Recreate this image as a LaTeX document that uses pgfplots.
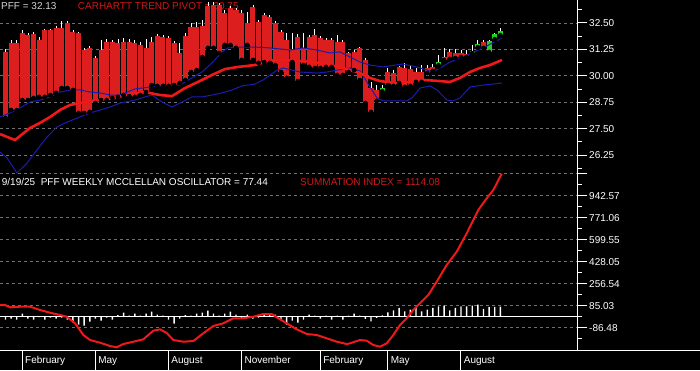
\documentclass[border=0pt]{standalone}
\usepackage{pgfplots}
\pgfplotsset{compat=1.18}
\usepackage{pgfplotstable}
\usepackage{fontspec}
\setmainfont{Liberation Sans}
\definecolor{barred}{HTML}{DC1E1E}
\definecolor{linered}{HTML}{F01818}
\definecolor{txtred}{HTML}{D01818}
\definecolor{navy}{HTML}{1C1CB0}
\definecolor{cgreen}{HTML}{22D022}
\definecolor{txtgray}{HTML}{D4D4D4}
\definecolor{gridgray}{HTML}{707070}
\newcommand{\tf}{\fontsize{10}{12}\selectfont}

\pgfplotstableread{
i lo hi wk
0 28.00 31.13 31.27
1 28.38 31.55 31.69
2 28.38 31.55 31.69
3 28.85 32.03 32.17
4 28.85 31.93 32.03
5 28.95 31.98 32.07
6 29.00 31.69 31.84
7 29.00 32.17 32.22
8 29.09 32.17 32.22
9 29.19 32.26 32.36
10 29.42 32.26 32.59
11 29.42 32.50 32.59
12 29.33 32.07 32.17
13 28.24 32.03 32.07
14 28.24 31.22 31.32
15 28.29 31.32 31.41
16 28.71 30.84 30.94
17 28.85 31.22 31.69
18 28.85 31.60 31.74
19 28.95 31.60 31.69
20 29.00 31.55 31.74
21 29.09 31.60 31.79
22 29.04 31.60 31.74
23 29.00 31.55 31.69
24 29.09 31.46 31.60
25 29.23 31.32 31.74
26 29.56 31.60 31.84
27 29.52 31.88 31.98
28 29.52 31.84 31.93
29 29.52 31.79 31.88
30 29.56 31.55 31.65
31 29.66 31.08 31.55
32 29.80 31.88 32.03
33 30.18 32.31 32.50
34 30.27 32.31 32.55
35 30.89 32.36 32.64
36 31.32 33.30 33.49
37 31.32 33.35 33.49
38 31.08 33.35 33.45
39 31.46 32.97 33.12
40 31.46 33.21 33.30
41 31.32 33.12 33.21
42 30.75 32.97 33.12
43 31.46 32.50 33.02
44 30.75 33.26 33.35
45 30.61 32.55 32.64
46 30.65 32.88 32.97
47 30.61 32.78 32.88
48 30.51 32.50 32.59
49 30.18 32.07 32.17
50 29.90 31.69 32.03
51 30.65 31.22 32.03
52 29.75 31.84 31.98
53 30.51 31.32 32.03
54 30.42 31.84 31.93
55 30.37 31.93 32.22
56 30.37 31.79 31.88
57 30.42 31.69 31.79
58 30.42 31.69 31.79
59 30.04 31.60 31.93
60 30.04 31.60 31.69
61 30.18 31.08 31.13
62 30.27 31.13 31.22
63 29.80 31.32 31.36
64 28.71 30.75 30.84
65 28.29 29.42 29.71
66 28.81 29.33 29.56
68 29.56 30.18 30.37
69 29.52 30.13 30.27
70 29.66 30.42 30.46
71 29.47 30.37 30.61
72 29.52 30.32 30.46
73 29.71 30.18 30.37
74 29.71 30.18 30.51
75 30.13 30.37 30.51
76 30.23 30.42 30.56
78 30.75 30.89 31.32
79 30.80 31.13 31.27
80 30.84 31.08 31.27
81 30.89 31.08 31.22
82 30.89 31.03 31.22
85 31.32 31.60 31.69
}\redbars

\pgfplotstableread{
i lo hi wl wh
67 29.28 29.42 29.19 29.56
77 30.51 30.65 30.42 30.98
83 31.08 31.17 31.03 31.46
84 31.36 31.51 31.32 31.69
86 31.13 31.65 31.08 31.69
87 31.74 31.98 31.69 32.03
88 31.93 32.13 31.88 32.26
}\greenbars

\pgfplotstableread{
x y
-0.97 27.24
1.70 26.96
4.37 27.53
6.15 27.77
7.93 28.05
9.70 28.38
11.48 28.62
13.26 28.71
15.04 28.81
16.82 28.85
19.48 28.95
21.26 29.09
24.82 29.23
27.48 29.09
29.62 29.04
31.93 29.42
34.24 29.71
36.73 30.04
39.04 30.32
41.35 30.42
44.37 30.51
46.15 30.65
47.93 30.75
49.71 30.75
51.49 30.70
53.27 30.70
55.93 30.61
58.60 30.46
61.27 30.27
63.05 30.13
64.82 29.90
66.60 29.75
69.27 29.66
71.94 29.71
74.60 29.80
77.27 29.75
79.05 29.71
80.83 29.90
82.61 30.18
84.38 30.37
86.16 30.51
88.30 30.75
}\trend

\pgfplotstableread{
x y
-0.97 28.05
0.81 28.24
2.59 28.48
4.37 28.76
6.15 28.85
7.93 29.00
9.70 29.23
11.48 29.33
13.26 29.33
15.04 29.23
16.82 29.19
18.59 29.09
20.37 29.09
23.04 29.38
25.71 29.47
28.37 29.52
31.04 29.56
33.17 29.90
34.95 30.18
36.73 30.61
38.51 31.13
39.58 31.32
42.06 31.36
44.37 31.36
47.04 31.32
50.60 31.22
52.91 31.32
55.40 31.22
57.71 31.08
59.49 31.13
61.27 30.89
63.05 30.65
64.82 30.51
67.14 30.42
70.69 30.56
73.18 30.42
76.02 30.18
77.27 30.37
79.05 30.65
82.07 30.98
84.92 31.32
88.30 31.79
}\bluehi

\pgfplotstableread{
x y
-0.97 26.39
0.28 26.11
2.06 25.40
3.84 25.87
5.61 26.49
7.39 27.10
9.17 27.58
10.95 27.81
13.26 28.05
15.04 28.24
16.82 28.38
18.59 28.52
20.37 28.71
23.04 28.85
24.82 29.00
26.06 29.09
27.84 28.76
29.62 28.52
31.40 28.76
33.17 29.00
34.95 29.00
36.73 29.09
38.51 29.19
40.29 29.33
42.06 29.52
44.37 29.61
45.80 29.80
48.29 30.27
49.36 30.37
52.38 30.18
55.40 30.13
57.18 30.18
58.96 30.27
61.27 30.37
63.05 30.23
64.82 29.47
66.07 28.95
67.14 28.81
71.40 28.81
72.47 29.00
73.71 29.42
75.49 29.52
76.74 29.33
78.51 28.85
79.58 28.81
80.83 28.95
82.61 29.47
84.92 29.56
86.69 29.61
88.30 29.66
}\bluelo

\pgfplotstableread{
x y
0 -23
1 -16
2 -23
3 23
4 -16
5 -23
6 -4
7 -23
8 -8
9 -16
10 -8
11 -23
12 -44
13 -62
14 -70
15 -39
16 -16
17 -31
18 -8
19 -23
20 12
21 31
22 8
23 23
24 8
25 23
26 39
27 16
28 8
29 -23
30 -55
31 -16
32 12
33 8
34 23
35 31
36 47
37 23
38 8
39 23
40 39
41 16
42 -16
43 16
44 -16
45 -8
46 27
47 16
48 16
49 -23
50 -62
51 -31
52 -47
53 -23
54 16
55 8
56 -16
57 8
58 -23
59 8
60 -23
61 8
62 23
63 8
64 -18
65 -37
66 -10
67 10
68 34
69 49
70 68
71 41
72 55
73 68
74 41
75 55
76 68
77 80
78 86
79 49
80 68
81 80
82 80
83 86
84 94
85 60
86 76
87 76
88 77.44
}\osc

\pgfplotstableread{
x y
-0.97 90.5
-0.08 90.5
0.81 72.6
2.59 77.2
4.37 77.2
6.15 51.5
7.93 30.5
9.70 12.5
10.89 -0.7
12.37 -52.2
13.85 -143.4
15.04 -182.4
16.82 -203.4
18.59 -229.1
19.79 -239.3
20.96 -213.6
22.74 -195.6
24.51 -176.9
26.29 -109.9
27.48 -99.0
28.68 -127.8
29.85 -182.4
31.63 -195.6
33.41 -190.2
35.18 -130.1
36.96 -73.2
38.74 -52.2
40.52 -13.2
42.30 -13.2
44.07 -0.7
45.85 20.3
47.34 20.3
48.52 -13.2
50.01 -52.2
51.79 -99.0
53.57 -135.6
55.35 -143.4
57.12 -169.1
58.90 -195.6
60.68 -213.6
61.27 -208.1
63.05 -182.4
64.24 -187.8
65.41 -221.4
66.60 -234.6
67.79 -208.1
68.97 -143.4
70.16 -65.4
71.35 -13.2
72.52 51.5
73.71 103.7
75.19 168.4
76.68 272.1
78.46 402.3
80.24 506.0
82.02 649.5
84.08 831.1
85.57 922.3
86.75 987.0
88.24 1114.08
}\summ

\pgfplotsset{panel/.style={
  anchor=south west, scale only axis, width=577pt,
  xmin=-0.97, xmax=101.63,
  axis x line=none, axis y line*=right,
  axis line style={white, line width=1pt},
  tick align=outside, major tick length=10pt, minor tick length=5pt,
  tick style={white, line width=1pt},
  ymajorgrids, major grid style={gridgray, dash pattern=on 3pt off 3pt, line width=0.8pt},
  yticklabel style={text=white, font=\tf, anchor=west, inner sep=0pt, xshift=2pt},
  xtick=\empty,
}}

\begin{document}
\begin{tikzpicture}[font=\tf]
\useasboundingbox (0,0) rectangle (700pt,370pt);
\fill[black] (0,0) rectangle (700pt,370pt);
\node[anchor=base west, inner sep=0pt, text=txtgray] at (1pt,360.5pt) {PFF = 32.13};
\node[anchor=base west, inner sep=0pt, text=txtred] at (77.7pt,360.5pt) {CARHARTT TREND PIVOT = 30.75};
\node[anchor=base west, inner sep=0pt, text=white] at (1.7pt,185pt) {9/19/25\ \ PFF WEEKLY MCCLELLAN OSCILLATOR = 77.44};
\node[anchor=base west, inner sep=0pt, text=txtred] at (300pt,185pt) {SUMMATION INDEX = 1114.08};

\begin{axis}[panel, at={(0pt,197pt)}, height=173pt,
  ymin=25.398, ymax=33.589,
  ytick={26.25,27.5,28.75,30,31.25,32.5},
  yticklabels={26.25,27.50,28.75,30.00,31.25,32.50},
  minor ytick={25.625,26.875,28.125,29.375,30.625,31.875,33.125}]
\addplot[only marks, mark=none, error bars/.cd, y dir=plus, y explicit, error mark=none,
  error bar style={draw=white, line width=0.8pt}]
  table[x=i, y=lo, y error expr=\thisrow{wk}-\thisrow{lo}] {\redbars};
\addplot[only marks, mark=none, error bars/.cd, y dir=plus, y explicit, error mark=none,
  error bar style={draw=barred, line width=5.1pt}]
  table[x=i, y=lo, y error expr=\thisrow{hi}-\thisrow{lo}] {\redbars};
\addplot[only marks, mark=none, error bars/.cd, y dir=plus, y explicit, error mark=none,
  error bar style={draw=white, line width=0.8pt}]
  table[x=i, y=wl, y error expr=\thisrow{wh}-\thisrow{wl}] {\greenbars};
\addplot[only marks, mark=none, error bars/.cd, y dir=plus, y explicit, error mark=none,
  error bar style={draw=cgreen, line width=5.1pt}]
  table[x=i, y=lo, y error expr=\thisrow{hi}-\thisrow{lo}] {\greenbars};
\addplot[navy, line width=1pt] table {\bluehi};
\addplot[navy, line width=1pt] table {\bluelo};
\addplot[linered, line width=2.6pt] table {\trend};
\end{axis}

\begin{axis}[panel, at={(0pt,20pt)}, height=177pt,
  ymin=-260.3, ymax=1119.6,
  ytick={-86.48,85.03,256.54,428.05,599.55,771.06,942.57,1114.08},
  yticklabels={-86.48,85.03,256.54,428.05,599.55,771.06,942.57,{}},
  minor ytick={-172.235,-0.725,170.785,342.295,513.8,685.305,856.815,1028.325}]
\addplot[white, line width=1pt] coordinates {(-0.97,0) (101.63,0)};
\addplot[ybar, bar width=1.4pt, fill=white, draw=none] table {\osc};
\addplot[linered, line width=2pt] table {\summ};
\end{axis}

\begin{axis}[at={(0pt,0pt)}, anchor=south west, scale only axis, width=577pt, height=20pt,
  xmin=-0.97, xmax=101.63, ymin=0, ymax=1,
  axis line style={draw=none}, ytick=\empty,
  xtick={3,16,29,42,56,68,81},
  xticklabels={February,May,August,November,February,May,August},
  xmajorgrids, major grid style={white, solid, line width=1pt},
  major tick length=0pt, xtick style={draw=none},
  xticklabel style={anchor=base west, inner sep=0pt, text=white, font=\tf, xshift=2.7pt, yshift=6.7pt}]
\end{axis}
\draw[white, line width=1pt] (0,20pt) -- (700pt,20pt);
\end{tikzpicture}
\end{document}
